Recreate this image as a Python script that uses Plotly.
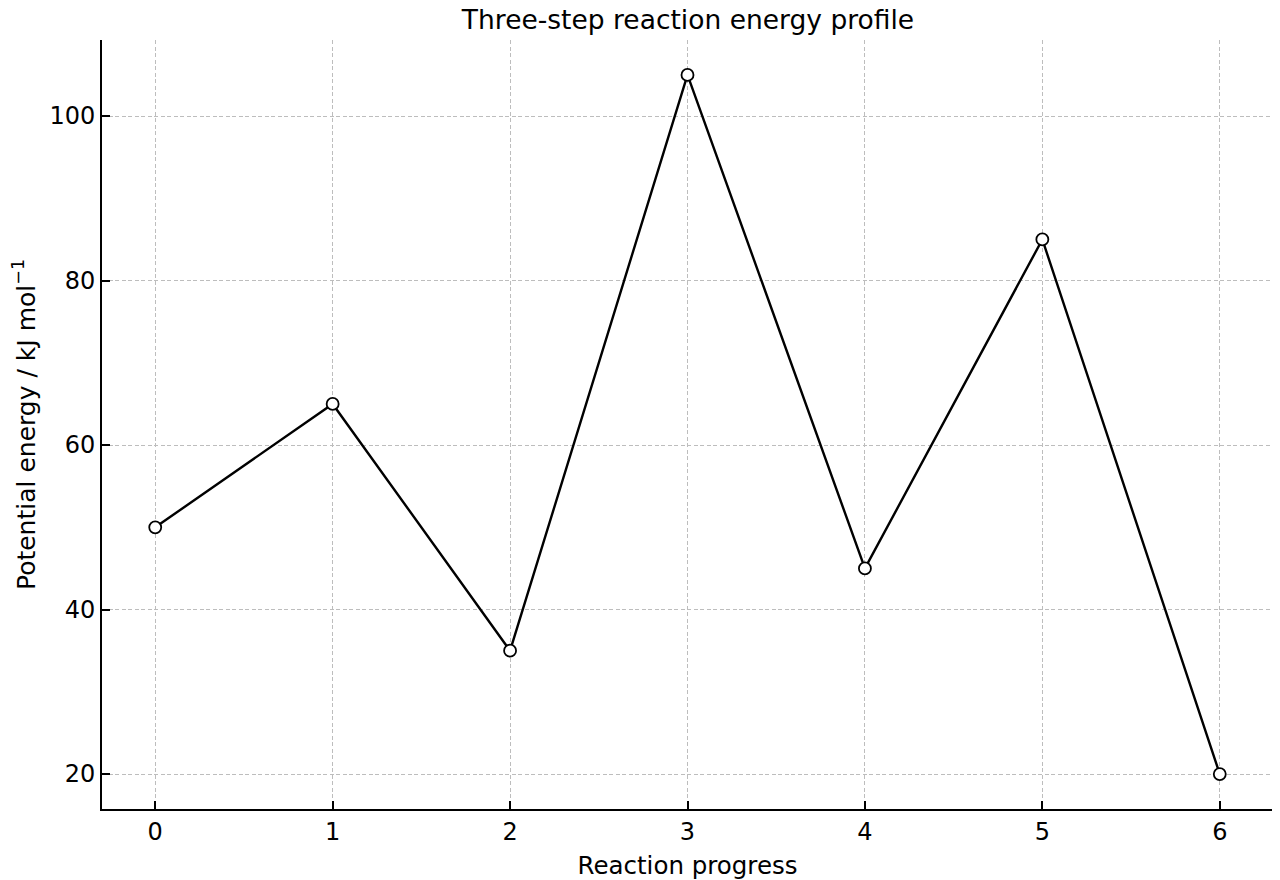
import plotly.graph_objects as go

# reaction coordinate and energies (kJ/mol)
progress = [0, 1, 2, 3, 4, 5, 6]
energy = [50, 65, 35, 105, 45, 85, 20]

x_ticks = [0, 1, 2, 3, 4, 5, 6]
y_ticks = [20, 40, 60, 80, 100]

fig = go.Figure()

fig.add_trace(go.Scatter(
    x=progress,
    y=energy,
    mode='lines+markers',
    line=dict(color='black', width=2.4),
    marker=dict(size=12, color='white', line=dict(color='black', width=1.8)),
    showlegend=False,
))

axis_style = dict(
    showline=True,
    linecolor='black',
    linewidth=2,
    ticks='inside',
    ticklen=8,
    tickwidth=2,
    tickcolor='black',
    showgrid=True,
    gridcolor='#bdbdbd',
    griddash='4px,2.5px',
    gridwidth=1,
    zeroline=False,
    tickfont=dict(family='DejaVu Sans', size=24, color='black'),
    mirror=False,
    automargin=False,
)

fig.update_layout(
    width=1280,
    height=880,
    paper_bgcolor='white',
    plot_bgcolor='white',
    font=dict(family='DejaVu Sans, sans-serif', color='black', size=24),
    # page adds an 8px body offset, so margins are shifted to compensate
    margin=dict(l=94, r=15, t=32, b=79),
    title=dict(
        text='Three-step reaction energy profile',
        x=0.53125, xanchor='center',
        y=0.9865, yanchor='middle',
        font=dict(family='DejaVu Sans', size=26.5, color='black'),
    ),
    xaxis=dict(axis_style, range=[-0.3, 6.3], tickvals=x_ticks,
               title=dict(text='Reaction progress', standoff=12,
                          font=dict(family='DejaVu Sans', size=24.5, color='black'))),
    yaxis=dict(axis_style, range=[15.75, 109.25], tickvals=y_ticks,
               title=dict(text='Potential energy / kJ mol<sup>\u22121</sup>', standoff=18,
                          font=dict(family='DejaVu Sans', size=25, color='black'))),
)

fig.write_html("out.html")
